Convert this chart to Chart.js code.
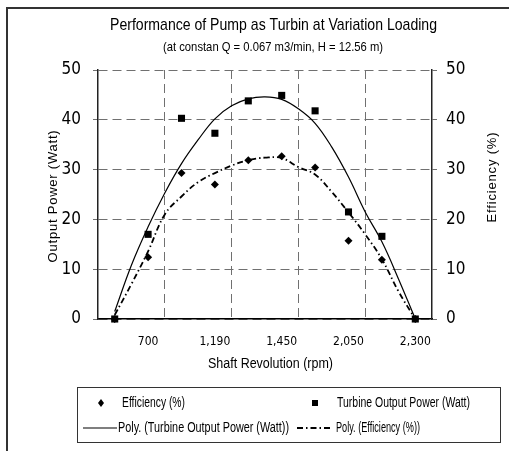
<!DOCTYPE html>
<html>
<head>
<meta charset="utf-8">
<script src="https://cdn.jsdelivr.net/npm/chart.js@4.4.1/dist/chart.umd.min.js"></script>
<style>
  html, body { margin: 0; padding: 0; background: #fff; }
  canvas { display: block; }
</style>
</head>
<body>
<canvas id="chart" width="509" height="451"></canvas>
<script>
// shaft revolution (rpm) - only every other label is printed on the axis
const categories = ['', '700', '', '1,190', '', '1,450', '', '2,050', '', '2,300'];

const powerWatt = [0, 17.0, 40.3, 37.3, 43.8, 44.9, 41.8, 21.5, 16.6, 0];
const efficiencyPct = [0, 12.4, 29.3, 27.0, 31.9, 32.7, 30.4, 15.7, 11.9, 0];

// polynomial trend lines, every half category
const trendAt = [0, 0.5, 1, 1.5, 2, 2.5, 3, 3.5, 4, 4.5, 5, 5.5, 6, 6.5, 7, 7.5, 8, 8.5, 9];
const powerTrend = [1.5, 10.8, 18.5, 25.3, 31.2, 36.0, 40.2, 42.8, 44.2, 44.6, 44.1, 42.2, 39.3, 34.5, 28.5, 21.5, 15.5, 8.0, 0];
const efficiencyTrend = [0.8, 7.0, 13.6, 21.0, 24.6, 27.5, 29.3, 30.8, 31.9, 32.4, 32.3, 30.5, 29.0, 25.5, 21.4, 17.0, 12.0, 5.5, 0];

const yTicks = [0, 10, 20, 30, 40, 50];

const COND = '"DejaVu Sans Condensed", "Liberation Sans", sans-serif';
const SANS = '"Liberation Sans", Arial, sans-serif';

const GRID = '#707070';
const DASH = [9, 5];

// text squeezed to the width it has in the picture (the original is Arial Narrow)
function narrowText(ctx, text, x, y, width, align) {
  const w = ctx.measureText(text).width;
  ctx.save();
  ctx.translate(x, y);
  ctx.scale(width / w, 1);
  ctx.textAlign = align;
  ctx.fillText(text, 0, 0);
  ctx.restore();
}

function spacedVertical(ctx, text, cx, cy, length) {
  ctx.save();
  ctx.letterSpacing = '0px';
  const w = ctx.measureText(text).width;
  const sp = Math.max(0, (length - w) / (text.length - 1));
  ctx.letterSpacing = sp.toFixed(2) + 'px';
  const total = ctx.measureText(text).width;
  ctx.translate(cx, cy);
  ctx.rotate(-Math.PI / 2);
  ctx.textAlign = 'left';
  ctx.fillText(text, -total / 2, 0);
  ctx.restore();
}

const frameAndText = {
  id: 'frameAndText',
  afterDraw(chart) {
    const ctx = chart.ctx;
    ctx.save();

    // outer frame (only left and top edges are in the picture)
    ctx.strokeStyle = '#333';
    ctx.lineWidth = 2;
    ctx.strokeRect(7, 8, 600, 600);

    ctx.fillStyle = '#000';
    ctx.textBaseline = 'middle';
    ctx.font = '17px ' + SANS;
    narrowText(ctx, 'Performance of Pump as Turbin at Variation Loading', 273.5, 25, 327, 'center');
    ctx.font = '13px ' + SANS;
    narrowText(ctx, '(at constan Q = 0.067 m3/min, H = 12.56 m)', 273, 47, 220, 'center');

    ctx.font = '14px ' + SANS;
    narrowText(ctx, 'Shaft Revolution (rpm)', 270.5, 364, 125, 'center');

    // axis titles, both read bottom to top
    ctx.font = '13px ' + SANS;
    spacedVertical(ctx, 'Output Power (Watt)', 53, 196, 132);
    spacedVertical(ctx, 'Efficiency (%)', 492, 177, 90);

    // legend
    ctx.strokeStyle = '#333';
    ctx.lineWidth = 1;
    ctx.strokeRect(77.5, 387.5, 423, 55);

    ctx.font = '14px ' + SANS;
    const r1 = 403, r2 = 428;

    ctx.beginPath();
    ctx.moveTo(101, r1 - 4); ctx.lineTo(104, r1); ctx.lineTo(101, r1 + 4); ctx.lineTo(98, r1);
    ctx.closePath();
    ctx.fill();
    narrowText(ctx, 'Efficiency (%)', 122, r1, 63, 'left');

    ctx.fillRect(312, r1 - 3, 6, 6);
    narrowText(ctx, 'Turbine Output Power (Watt)', 337, r1, 133, 'left');

    ctx.strokeStyle = '#000';
    ctx.lineWidth = 1.2;
    ctx.beginPath();
    ctx.moveTo(83, r2); ctx.lineTo(117, r2);
    ctx.stroke();
    narrowText(ctx, 'Poly. (Turbine Output Power (Watt))', 118, r2, 171, 'left');

    ctx.lineWidth = 1.8;
    ctx.setLineDash([6, 3, 1.5, 3]);
    ctx.beginPath();
    ctx.moveTo(297, r2); ctx.lineTo(333, r2);
    ctx.stroke();
    ctx.setLineDash([]);
    narrowText(ctx, 'Poly. (Efficiency (%))', 336, r2, 84, 'left');

    ctx.restore();
  }
};

new Chart(document.getElementById('chart'), {
  type: 'line',
  data: {
    labels: categories,
    datasets: [
      {
        label: 'Poly. (Turbine Output Power (Watt))',
        data: trendAt.map((x, i) => ({ x: x, y: powerTrend[i] })),
        xAxisID: 'xt',
        borderColor: '#000',
        borderWidth: 1.2,
        pointRadius: 0,
        tension: 0.4,
        clip: false
      },
      {
        label: 'Poly. (Efficiency (%))',
        data: trendAt.map((x, i) => ({ x: x, y: efficiencyTrend[i] })),
        xAxisID: 'xt',
        borderColor: '#000',
        borderWidth: 1.8,
        borderDash: [6, 3, 1.5, 3],
        pointRadius: 0,
        tension: 0.4,
        clip: false
      },
      {
        label: 'Efficiency (%)',
        data: efficiencyPct,
        showLine: false,
        pointStyle: 'rectRot',
        pointRadius: 4,
        backgroundColor: '#000',
        borderColor: '#000',
        borderWidth: 0,
        clip: false
      },
      {
        label: 'Turbine Output Power (Watt)',
        data: powerWatt,
        showLine: false,
        pointStyle: 'rect',
        pointRadius: 5,
        backgroundColor: '#000',
        borderColor: '#000',
        borderWidth: 0,
        clip: false
      }
    ]
  },
  options: {
    responsive: false,
    animation: false,
    layout: { padding: { top: 70, left: 0, right: 0, bottom: 0 } },
    plugins: {
      legend: { display: false },
      title: { display: false },
      tooltip: { enabled: false }
    },
    scales: {
      x: {
        type: 'category',
        offset: true,
        afterFit: s => { s.height = 132; },
        grid: {
          offset: true,
          drawTicks: false,
          lineWidth: 1,
          color: c => (c.index > 0 && c.index < categories.length && c.index % 2 === 0) ? GRID : 'rgba(0,0,0,0)'
        },
        border: { display: true, color: '#000', width: 1.5, dash: DASH },
        ticks: {
          autoSkip: false,
          maxRotation: 0,
          padding: 16,
          color: '#000',
          font: { family: COND, size: 12 }
        }
      },
      // hidden companion axis so the trend curves can be sampled between categories
      xt: {
        type: 'linear',
        display: false,
        min: -0.5,
        max: categories.length - 0.5
      },
      y: {
        position: 'left',
        min: 0,
        max: 50,
        afterFit: s => { s.width = 98; },
        afterBuildTicks: s => { s.ticks = yTicks.map(v => ({ value: v })); },
        grid: {
          color: GRID,
          lineWidth: 1,
          tickLength: 5,
          tickColor: GRID,
          tickBorderDash: []
        },
        border: { display: true, color: '#222', width: 1.5, dash: DASH },
        ticks: {
          padding: 12,
          color: '#000',
          font: { family: COND, size: 17 }
        }
      },
      y2: {
        position: 'right',
        min: 0,
        max: 50,
        afterFit: s => { s.width = 77; },
        afterBuildTicks: s => { s.ticks = yTicks.map(v => ({ value: v })); },
        grid: {
          drawOnChartArea: false,
          tickLength: 5,
          tickColor: GRID
        },
        border: { display: true, color: '#222', width: 1.5 },
        ticks: {
          padding: 9,
          color: '#000',
          font: { family: COND, size: 17 }
        }
      }
    }
  },
  plugins: [frameAndText]
});
</script>
</body>
</html>
